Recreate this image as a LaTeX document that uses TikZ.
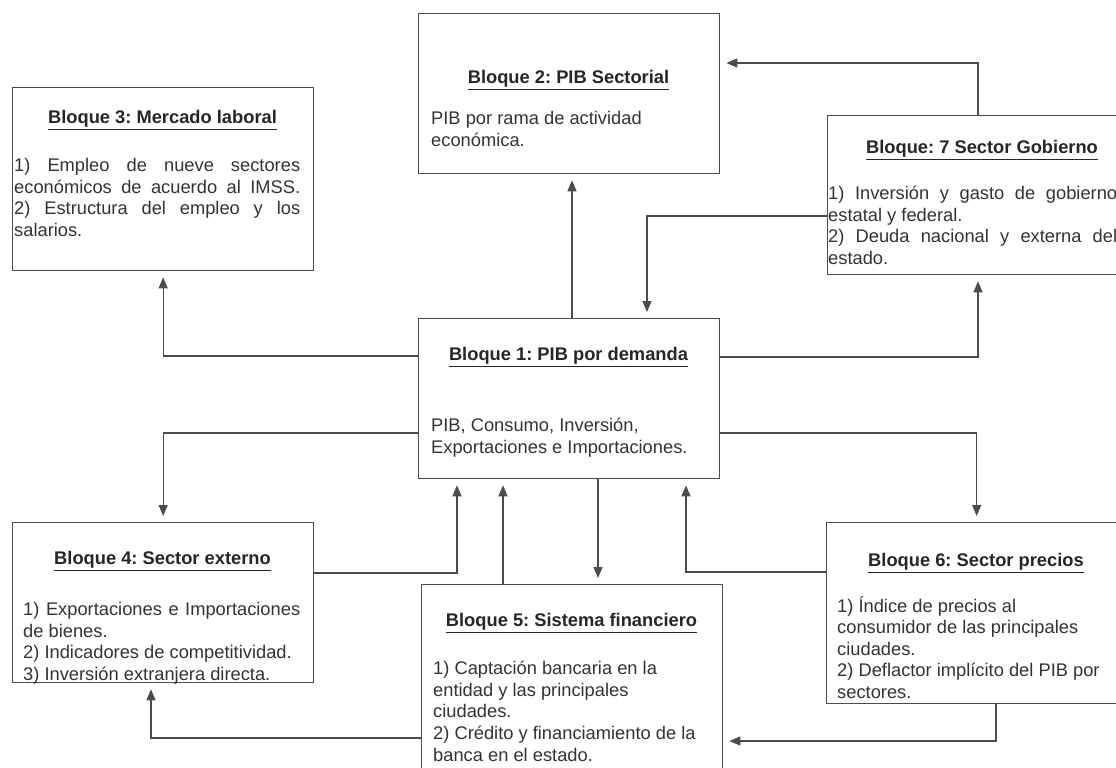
\documentclass[tikz,border=0pt]{standalone}
\usepackage{fontspec}
\setmainfont{Liberation Sans}
\usetikzlibrary{arrows.meta}
\frenchspacing

\begin{document}
\begin{tikzpicture}[x=1pt,y=-1pt,
    bloque/.style={draw=black!70,line width=1.3pt,rectangle,inner sep=0pt,anchor=north west},
    titulo/.style={font=\fontsize{18.3}{21.6}\selectfont\bfseries,text=black!85},
    texto/.style={font=\fontsize{18.3}{21.6}\selectfont,text=black!80,inner sep=0pt,anchor=north west,align=left},
    flecha/.style={draw=black!70,line width=1.2pt,-{Triangle[length=11pt,width=9pt]},shorten >=6pt}]
  \useasboundingbox (0,0) rectangle (1116,768);
  \clip (0,0) rectangle (1116,768);

  % cajas
  \node[bloque,minimum width=301pt,minimum height=160pt] (b2) at (418,13) {};
  \node[bloque,minimum width=301pt,minimum height=183pt] (b3) at (12,87) {};
  \node[bloque,minimum width=310pt,minimum height=159pt] (b7) at (827,115) {};
  \node[bloque,minimum width=301pt,minimum height=160pt] (b1) at (418,318) {};
  \node[bloque,minimum width=301pt,minimum height=160pt] (b4) at (12,522) {};
  \node[bloque,minimum width=301pt,minimum height=200pt] (b5) at (421,584) {};
  \node[bloque,minimum width=300pt,minimum height=181pt] (b6) at (826,522) {};

  % titulos
  \node[titulo] (t2) at (568.5,80) {\underline{Bloque 2: PIB Sectorial}};
  \node[titulo] (t3) at (162.5,120) {\underline{Bloque 3: Mercado laboral}};
  \node[titulo] (t7) at (982,150) {\underline{Bloque: 7 Sector Gobierno}};
  \node[titulo] (t1) at (568.5,357) {\underline{Bloque 1: PIB por demanda}};
  \node[titulo] (t4) at (162.5,561) {\underline{Bloque 4: Sector externo}};
  \node[titulo] (t5) at (571.5,623) {\underline{Bloque 5: Sistema financiero}};
  \node[titulo] (t6) at (976,563) {\underline{Bloque 6: Sector precios}};

  % textos
  \node[texto] (d2) at (431,111) {PIB por rama de actividad\\económica.};
  \node[texto,text width=286pt,align=justify] (d3) at (14,158)
    {1) Empleo de nueve sectores\linebreak económicos de acuerdo al IMSS.\linebreak 2) Estructura del empleo y los\linebreak salarios.};
  \node[texto,text width=289pt,align=justify] (d7) at (828,186)
    {1) Inversión y gasto de gobierno\linebreak estatal y federal.\\ 2) Deuda nacional y externa del\linebreak estado.};
  \node[texto] (d1) at (431,418) {PIB, Consumo, Inversión,\\Exportaciones e Importaciones.};
  \node[texto,text width=277pt,align=justify] (d4) at (23,602)
    {1) Exportaciones e Importaciones\linebreak de bienes.\\ 2) Indicadores de competitividad.\\ 3) Inversión extranjera directa.};
  \node[texto] (d5) at (433,661)
    {1) Captación bancaria en la\\entidad y las principales\\ciudades.\\2) Crédito y financiamiento de la\\banca en el estado.};
  \node[texto] (d6) at (837,596)
    {1) Índice de precios al\\consumidor de las principales\\ciudades.\\2) Deflactor implícito del PIB por\\sectores.};

  % conexiones
  \draw[flecha] ([xshift=154pt]b1.north west) -- ([xshift=154pt]b2.south west);
  \draw[flecha] ([xshift=151pt]b7.north west) |- ([yshift=-50pt]b2.north east);
  \draw[flecha] ([yshift=-101pt]b7.north west) -| ([xshift=229pt]b1.north west);
  \draw[flecha] ([yshift=-38pt]b1.north west) -| (b3.south);
  \draw[flecha] ([yshift=-39pt]b1.north east) -| ([xshift=151pt]b7.south west);
  \draw[flecha] ([yshift=-115pt]b1.north west) -| (b4.north);
  \draw[flecha] ([yshift=-115pt]b1.north east) -| (b6.north);
  \draw[flecha] ([yshift=-51pt]b4.north east) -| ([xshift=39pt]b1.south west);
  \draw[flecha] ([xshift=82pt]b5.north west) -- ([xshift=85pt]b1.south west);
  \draw[flecha] ([xshift=180pt]b1.south west) -- ([xshift=177pt]b5.north west);
  \draw[flecha] ([yshift=-50pt]b6.north west) -| ([xshift=268pt]b1.south west);
  \draw[flecha] ([xshift=170pt]b6.south west) |- ([yshift=-157pt]b5.north east);
  \draw[flecha] ([yshift=-154pt]b5.north west) -| ([xshift=139pt]b4.south west);
\end{tikzpicture}
\end{document}
